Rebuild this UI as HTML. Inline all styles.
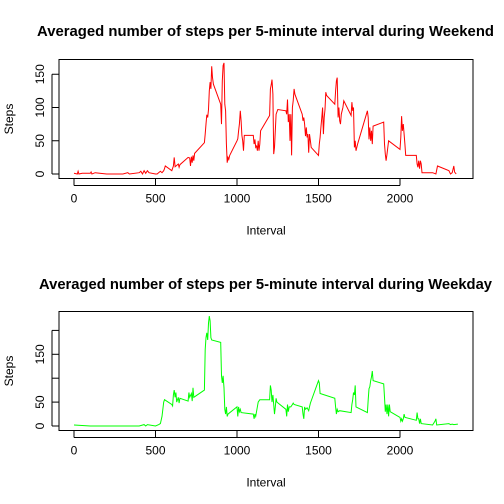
<!DOCTYPE html>
<html><head><meta charset="utf-8"><style>
html,body{margin:0;padding:0;background:#fff}
svg{display:block;font-family:"Liberation Sans",Arial,sans-serif}
</style></head><body>
<svg id="chart" width="504" height="504" viewBox="0 0 504 504"></svg>
<script>
const weekendX=[0,20,25,30,50,100,105,110,130,200,300,330,340,400,410,420,430,440,450,460,500,510,530,540,550,555,560,600,610,615,620,640,645,650,700,710,715,720,725,730,735,740,800,805,810,815,820,825,830,835,840,845,850,855,900,905,910,915,920,925,930,935,940,945,950,955,1000,1005,1010,1015,1020,1025,1030,1035,1040,1045,1100,1105,1110,1115,1120,1125,1130,1135,1140,1145,1200,1205,1210,1215,1220,1225,1230,1235,1240,1250,1300,1305,1310,1315,1320,1325,1330,1335,1340,1345,1350,1355,1400,1405,1410,1415,1420,1425,1430,1435,1440,1445,1450,1455,1500,1505,1510,1515,1520,1525,1530,1535,1540,1545,1550,1600,1605,1610,1615,1620,1625,1630,1635,1640,1650,1655,1700,1705,1710,1715,1720,1725,1730,1740,1800,1805,1810,1815,1820,1825,1830,1835,1900,1905,1910,1915,1920,1930,2000,2005,2010,2015,2020,2025,2030,2035,2100,2105,2110,2115,2120,2125,2130,2135,2200,2220,2230,2300,2310,2320,2330,2335,2345];
const weekendY=[1,0,4,0,1,1,3,0,2,0,0,2,0,2,4,0,5,1,5,2,0,0,4,2,5,8,12,5,12,25,11,15,10,14,25,24,12,26,17,28,20,31,47,60,75,89,85,97,125,138,128,162,145,135,105,75,140,163,167,105,95,45,17,25,22,28,50,53,65,75,95,80,58,50,35,58,58,45,52,40,42,35,50,35,45,65,88,128,134,142,120,30,40,65,90,97,95,90,112,78,90,50,90,28,100,110,128,120,90,80,85,75,57,70,55,60,32,60,50,40,28,45,55,70,85,100,60,85,97,123,118,105,125,140,145,85,100,80,75,90,100,110,88,108,95,100,40,50,35,45,95,85,52,70,50,65,45,72,78,45,30,20,30,50,37,55,87,65,75,60,45,28,28,15,10,20,8,20,15,2,2,0,12,5,0,2,12,3,0];
const weekdayX=[0,100,200,300,400,430,440,450,500,520,530,540,550,555,600,605,610,615,620,625,630,640,645,650,700,705,710,720,725,730,735,800,805,810,815,820,825,830,835,840,845,900,905,910,915,920,925,930,935,940,945,1000,1005,1010,1015,1020,1025,1100,1105,1110,1115,1130,1140,1200,1205,1210,1215,1220,1225,1230,1235,1240,1245,1300,1305,1310,1315,1320,1330,1340,1345,1350,1400,1405,1410,1415,1420,1430,1440,1445,1450,1500,1505,1510,1600,1605,1610,1615,1620,1630,1700,1705,1710,1715,1720,1725,1730,1800,1805,1810,1815,1820,1825,1830,1835,1900,1905,1910,1915,1920,1925,1930,1935,1940,2000,2005,2010,2015,2020,2025,2030,2100,2105,2110,2115,2120,2125,2130,2200,2215,2220,2225,2300,2310,2320,2330,2355];
const weekdayY=[2,0,0,0,0,3,0,3,0,3,5,20,50,55,45,42,65,75,60,70,50,60,48,58,52,70,60,68,52,80,60,75,160,185,195,180,215,230,220,185,180,175,105,90,105,80,35,25,40,20,25,40,20,40,30,35,28,25,15,25,20,50,55,55,85,75,50,65,45,25,40,58,50,35,20,45,30,40,40,45,48,45,40,25,15,40,35,38,32,40,48,95,90,68,58,40,25,35,30,32,28,45,55,70,65,85,40,28,55,78,82,95,103,115,95,88,60,30,45,25,45,20,45,30,18,10,15,10,15,25,18,12,28,15,15,5,15,5,2,10,15,2,5,3,4,3,4];
const xTicks=[0,500,1000,1500,2000];
const weekendYTicks=[0,50,100,150];
const weekdayYTicks=[0,50,100,150,200];
const weekdayYLabels=["0","50","","150",""];

const NS="http://www.w3.org/2000/svg";
const svg=document.getElementById('chart');
function mk(tag,attrs,parent,text){const e=document.createElementNS(NS,tag);for(const k in attrs)e.setAttribute(k,attrs[k]);if(text!==undefined)e.textContent=text;(parent||svg).appendChild(e);return e;}

function panel(opt){
  const g=mk('g',{});
  
  
  const sx=v=>74+(v/2000)*326;
  const sy=v=>opt.y0-v*opt.k;
  const t=mk('text',{x:265.5,y:opt.titleY,'text-anchor':'middle','font-size':'14.5','font-weight':'bold',fill:'#000',textLength:opt.tLen,lengthAdjust:'spacingAndGlyphs'},g,opt.title);
  
  
  const box=mk('rect',{x:59,y:opt.top,width:414,height:opt.bot-opt.top,fill:'none',stroke:'#000','stroke-width':1},g);
  
  
  xTicks.forEach(v=>{
    mk('line',{x1:sx(v),x2:sx(v),y1:opt.bot,y2:opt.bot+7,stroke:'#000'},g);
    const l=mk('text',{x:sx(v),y:opt.bot+24,'text-anchor':'middle','font-size':'12',fill:'#000'},g,String(v));
    
    
  });
  mk('line',{x1:sx(0),x2:sx(2000),y1:opt.bot+7,y2:opt.bot+7,stroke:'#000'},g);
  opt.yTicks.forEach((v,i)=>{
    mk('line',{x1:59,x2:52,y1:sy(v),y2:sy(v),stroke:'#000'},g);
    const l=mk('text',{x:44,y:sy(v),'text-anchor':'middle','font-size':'12',fill:'#000',transform:`rotate(-90 44 ${sy(v)})`},g,opt.yLabels[i]);
    
    
  });
  mk('line',{x1:52,x2:52,y1:sy(opt.yTicks[0]),y2:sy(opt.yTicks[opt.yTicks.length-1]),stroke:'#000'},g);
  const xl=mk('text',{x:266,y:opt.bot+56,'text-anchor':'middle','font-size':'12',fill:'#000'},g,'Interval');
  
  
  const cy=(opt.top+opt.bot)/2;
  const yl=mk('text',{x:13,y:cy,'text-anchor':'middle','font-size':'12',fill:'#000',transform:`rotate(-90 13 ${cy})`},g,'Steps');
  
  
  const pts=opt.xs.map((x,i)=>sx(x).toFixed(1)+','+sy(opt.ys[i]).toFixed(1)).join(' ');
  const line=mk('polyline',{points:pts,fill:'none',stroke:opt.color,'stroke-width':1},g);
  
  
}
panel({name:'weekend-panel',title:'Averaged number of steps per 5-minute interval during Weekend',titleY:36,tLen:457,top:59.5,bot:178.5,y0:174,k:0.665,yTicks:weekendYTicks,yLabels:weekendYTicks.map(String),xs:weekendX,ys:weekendY,color:'#ff0000',lineName:'weekend-line'});
panel({name:'weekday-panel',title:'Averaged number of steps per 5-minute interval during Weekday',titleY:289,tLen:453,top:311.5,bot:430.5,y0:426,k:0.478,yTicks:weekdayYTicks,yLabels:weekdayYLabels,xs:weekdayX,ys:weekdayY,color:'#00ff00',lineName:'weekday-line'});
</script>
</body></html>
